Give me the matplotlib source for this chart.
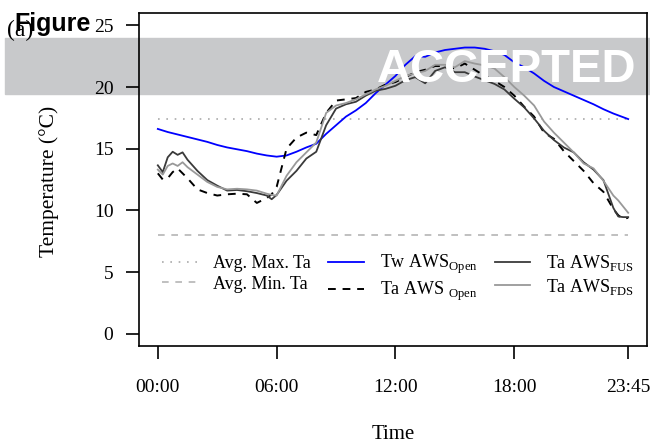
import matplotlib
matplotlib.use("Agg")
import matplotlib.pyplot as plt
from matplotlib.patches import Rectangle

plt.rcParams['font.family'] = ['Liberation Serif', 'DejaVu Serif']
plt.rcParams['mathtext.fontset'] = 'custom'
plt.rcParams['mathtext.rm'] = 'Liberation Serif'

# hours of day
hrs_tw = [0, 0.5, 1, 1.5, 2, 2.5, 3, 3.5, 4, 4.5, 5, 5.5, 6, 6.5, 7, 7.5, 8, 8.5,
          9, 9.5, 10, 10.5, 11, 11.5, 12, 12.5, 13, 13.5, 14, 14.5, 15, 15.5, 16,
          16.5, 17, 17.5, 18, 18.5, 19, 19.5, 20, 20.5, 21, 21.5, 22, 22.5, 23,
          23.5, 23.75]
tw_open = [16.6, 16.35, 16.15, 15.95, 15.75, 15.55, 15.3, 15.1, 14.95, 14.8, 14.6,
           14.45, 14.35, 14.45, 14.75, 15.1, 15.4, 16.2, 16.9, 17.6, 18.1, 18.7,
           19.5, 20.2, 20.9, 21.8, 22.5, 22.45, 22.8, 23.0, 23.1, 23.2, 23.2, 23.1,
           22.9, 22.6, 22.0, 21.6, 21.1, 20.5, 20.0, 19.65, 19.3, 18.95, 18.6,
           18.2, 17.85, 17.55, 17.4]

hrs_ta = [0, 0.25, 0.5, 0.75, 1, 1.25, 1.5, 2, 2.5, 3, 3.5, 4, 4.5, 5, 5.5, 5.75,
          6, 6.5, 7, 7.5, 8, 8.5, 9, 9.5, 10, 10.5, 11, 11.5, 12, 12.5, 13, 13.5,
          14, 14.5, 15, 15.5, 16, 16.5, 17, 17.5, 18, 18.5, 19, 19.5, 20, 20.5,
          21, 21.5, 22, 22.5, 23, 23.25, 23.5, 23.75]
ta_open = [13.0, 12.5, 12.6, 13.1, 13.4, 13.0, 12.6, 11.7, 11.4, 11.2, 11.3, 11.35,
           11.3, 10.6, 11.0, 11.3, 11.9, 15.0, 15.9, 16.3, 16.1, 17.9, 18.9, 19.0,
           19.1, 19.6, 19.8, 20.2, 20.4, 20.8, 21.2, 21.4, 21.7, 21.7, 21.5, 21.9,
           21.4, 20.9, 20.5, 20.0, 19.3, 18.4, 17.6, 16.3, 15.8, 14.8, 14.0, 13.2,
           12.2, 11.5, 10.1, 9.6, 9.3, 9.4]
ta_fus = [13.65, 13.1, 14.3, 14.75, 14.5, 14.7, 14.1, 13.2, 12.45, 12.0, 11.6,
          11.65, 11.55, 11.4, 11.2, 10.9, 11.25, 12.4, 13.2, 14.2, 14.75, 16.9,
          18.25, 18.6, 18.8, 19.3, 19.7, 19.85, 20.1, 20.55, 20.8, 20.3, 21.3,
          21.6, 21.2, 21.2, 20.85, 20.55, 20.25, 19.8, 19.05, 18.35, 17.45, 16.45,
          15.7, 15.1, 14.7, 13.9, 13.3, 12.45, 10.2, 9.5, 9.45, 9.45]
ta_fds = [13.3, 12.9, 13.6, 13.8, 13.6, 13.9, 13.5, 12.9, 12.3, 11.9, 11.7, 11.75,
          11.7, 11.6, 11.35, 11.25, 11.2, 12.8, 13.9, 14.7, 15.5, 17.9, 18.5, 18.7,
          19.0, 19.4, 19.8, 20.1, 20.5, 20.9, 21.1, 21.3, 21.8, 21.8, 21.6, 22.1,
          21.9, 21.75, 21.5, 20.8, 20.0, 19.3, 18.5, 17.2, 16.3, 15.5, 14.7, 13.8,
          13.4, 12.4, 11.2, 10.8, 10.3, 9.8]

avg_max_ta = 17.4
avg_min_ta = 8.0

tick_hrs = [0, 6, 12, 18, 23.75]
tick_labels = ['00:00', '06:00', '12:00', '18:00', '23:45']

fig = plt.figure(figsize=(6.5, 4.44), dpi=100)
W, H = 650, 444

# grey "accepted" banner behind the plot
fig.patches.append(Rectangle((5 / W, 1 - 94 / H), 645 / W, 56 / H,
                             transform=fig.transFigure, color='#c8c9cb',
                             zorder=-1))

ax = fig.add_axes([139 / W, 1 - 346 / H, 508 / W, 333 / H])
ax.patch.set_alpha(0)

ax.plot([0, 23.75], [avg_max_ta] * 2, color='#aaaaaa', lw=1.2, ls=(0, (1, 4)),
        label='Avg. Max. Ta')
ax.plot([0, 23.75], [avg_min_ta] * 2, color='#b5b5b5', lw=1.2, ls=(0, (4, 4)),
        label='Avg. Min. Ta')
ax.plot(hrs_tw, tw_open, color='#0000ff', lw=1.3, label=r'Tw AWS$_{\mathrm{Open}}$')
ax.plot(hrs_ta, ta_open, color='black', lw=1.4, ls=(0, (4, 3.5)),
        label=r'Ta AWS $_{\mathrm{Open}}$')
ax.plot(hrs_ta, ta_fus, color='#3a3a3a', lw=1.3, label=r'Ta AWS$_{\mathrm{FUS}}$')
ax.plot(hrs_ta, ta_fds, color='#999999', lw=1.3, label=r'Ta AWS$_{\mathrm{FDS}}$')

ax.set_xlim(-0.95, 24.7)
ax.set_ylim(-1, 26)
ax.set_xticks(tick_hrs)
ax.set_xticklabels(tick_labels)
ax.set_yticks([0, 5, 10, 15, 20, 25])
ax.tick_params(axis='both', direction='out', length=9.4, width=1.2, labelsize=14)
ax.tick_params(axis='x', pad=14)
ax.tick_params(axis='y', pad=9)
for s in ax.spines.values():
    s.set_linewidth(1.2)

ax.legend(ncol=3, frameon=False, fontsize=13, handlelength=1.95,
          handletextpad=0.9, columnspacing=0.95, labelspacing=0.2,
          borderpad=0, borderaxespad=0, loc='upper left',
          bbox_to_anchor=(162 / W, 1 - 253 / H), bbox_transform=fig.transFigure)

fig.text(49 / W, 1 - 181 / H, 'Temperature (°C)', rotation=90, ha='center',
         va='center', fontsize=15.5)
fig.text(393 / W, 1 - 434 / H, 'Time', ha='center', va='center', fontsize=15)

fig.text(7 / W, 1 - 36 / H, '(a)', fontsize=17, va='baseline')
fig.text(14 / W, 1 - 31 / H, 'Figure', family='Liberation Sans', weight='bold',
         fontsize=18, va='baseline')
fig.text(636 / W, 1 - 82 / H, 'ACCEPTED', family='Liberation Sans', weight='bold',
         fontsize=34, color='white', ha='right', va='baseline', zorder=5)

fig.savefig('out.png', dpi=100)
